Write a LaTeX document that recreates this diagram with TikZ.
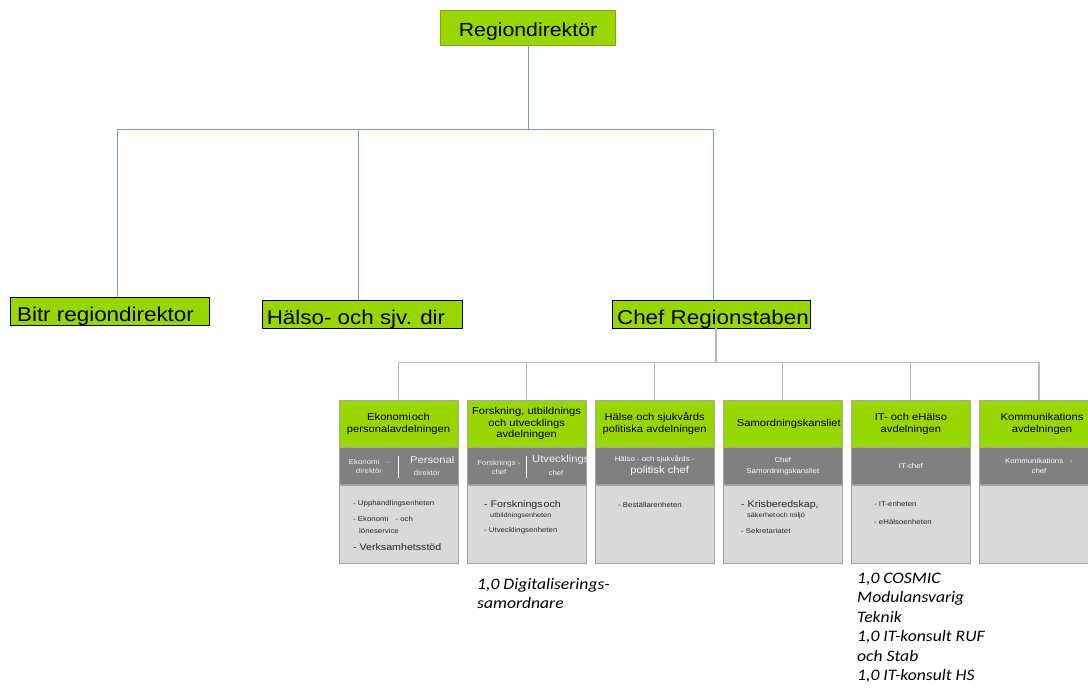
\documentclass[tikz,border=0pt]{standalone}
\usepackage{fontspec}
\setmainfont{Liberation Sans}[FakeStretch=1.12]
\newfontfamily\notefont{Carlito}[FakeStretch=1.1]
\usetikzlibrary{positioning}

\definecolor{leafgreen}{RGB}{153,214,0}
\definecolor{bandgray}{RGB}{128,128,128}
\definecolor{bodygray}{RGB}{217,217,217}
\definecolor{framegray}{RGB}{166,166,166}
\definecolor{linkblue}{RGB}{110,160,215}
\definecolor{linkgray}{RGB}{190,184,178}
\definecolor{inkgray}{RGB}{38,38,38}

\begin{document}
\begin{tikzpicture}[x=1pt, y=-1pt, thin,
  mgr/.style = {draw=black, line width=0.9pt, fill=leafgreen, minimum height=28pt, inner ysep=0pt, text height=22pt, text depth=2pt, font=\fontsize{20}{22}\selectfont},
  dept/.style = {draw=framegray, fill=leafgreen, minimum width=119pt, minimum height=47pt, inner sep=0pt, align=center, font=\fontsize{10}{12}\selectfont},
  bandbox/.style = {draw=framegray, fill=bandgray, minimum width=119pt, minimum height=37pt, inner sep=0pt, align=center, text=white},
  bodybox/.style = {draw=framegray, fill=bodygray, minimum width=119pt, minimum height=78pt, inner sep=0pt},
  lowtxt/.style = {inner sep=0pt, text=white!95!black, align=center, font=\fontsize{7}{9}\selectfont},
  hightxt/.style = {inner sep=0pt, text=white!95!black, font=\fontsize{10}{12}\selectfont},
  item/.style = {anchor=west, inner sep=0pt, text=inkgray, font=\fontsize{7}{9}\selectfont},
  bigitem/.style = {anchor=west, inner sep=0pt, text=inkgray, font=\fontsize{9.5}{11}\selectfont},
  note/.style = {anchor=north west, inner sep=0pt, align=left, font=\notefont\itshape\fontsize{16}{19.4}\selectfont},
  blueline/.style = {draw=linkblue, line width=0.9pt},
  grayline/.style = {draw=linkgray, line width=1.1pt}]
\useasboundingbox (0,0) rectangle (1088,698);
\clip (0,0) rectangle (1088,698);

% top level
\node[draw=leafgreen!80!black, fill=leafgreen, minimum width=175pt, minimum height=35pt, inner ysep=0pt, text height=21pt, text depth=2pt, font=\fontsize{19}{21}\selectfont] (rd) at (528,27.5) {Regiondirektör};
\node[mgr, minimum width=199pt] (bitr) at (109.5,311.5) {Bitr regiondirektor\hspace*{8pt}};
\node[mgr, minimum width=200pt] (hsj) at (362,314) {Hälso- och sjv. dir\hspace*{12pt}};
\node[mgr, minimum width=198pt, inner xsep=0pt] (chief) at (711,314) {\hspace*{4pt}Chef Regionstaben};

% departments
\node[dept] (d1) at (398.5,423.5) {Ekonomi\hspace{1pt}och\\personalavdelningen};
\node[dept, font=\fontsize{10}{11.5}\selectfont] (d2) [right=8.7pt of d1] {Forskning, utbildnings\\och utvecklings\\avdelningen};
\node[dept] (d3) [right=8.7pt of d2] {Hälse och sjukvårds\\politiska avdelningen};
\node[dept] (d4) [right=8.7pt of d3] {\hspace*{12pt}Samordningskansliet};
\node[dept] (d5) [right=8.7pt of d4] {IT- och eHälso\\avdelningen};
\node[dept] (d6) [right=8.7pt of d5] {\hspace*{6pt}Kommunikations\\\hspace*{6pt}avdelningen};

\node[bandbox] (b1) [below=0pt of d1] {};
\node[bandbox] (b2) [below=0pt of d2] {};
\node[bandbox] (b3) [below=0pt of d3] {{\fontsize{7}{9}\selectfont Hälso - och sjukvårds -}\\{\fontsize{10}{11}\selectfont\hspace*{10pt}politisk chef}};
\node[bandbox, font=\fontsize{7}{11}\selectfont] (b4) [below=0pt of d4] {Chef\\Samordningskansliet};
\node[bandbox, font=\fontsize{7}{9}\selectfont] (b5) [below=0pt of d5] {IT-chef};
\node[bandbox, font=\fontsize{7}{10}\selectfont] (b6) [below=0pt of d6] {Kommunikations\quad -\\chef};

\node[bodybox] (c1) [below=0pt of b1] {};
\node[bodybox] (c2) [below=0pt of b2] {};
\node[bodybox] (c3) [below=0pt of b3] {};
\node[bodybox] (c4) [below=0pt of b4] {};
\node[bodybox] (c5) [below=0pt of b5] {};
\node[bodybox] (c6) [below=0pt of b6] {};

% chiefs in the grey bands
\node[lowtxt] (eko) at (369,466) {Ekonomi\quad -\\direktör};
\node[hightxt, anchor=west] (pers) at (410,460) {Personal};
\node[lowtxt] (persd) at (427,473) {direktör};
\draw[white, line width=1.6pt] ([yshift=10pt]b1.center) -- ([yshift=-12pt]b1.center);
\node[lowtxt] (forsk) at (499,467) {Forsknings -\\chef};
\node[hightxt, anchor=west] (utv) at (532,460) {Utvecklings};
\node[lowtxt] (utvd) at (556,473) {chef};
\draw[white, line width=1.6pt] ([yshift=10pt]b2.center) -- ([yshift=-12pt]b2.center);

% units
\node[item] (u1) at (353,504) {- Upphandlingsenheten};
\node[item] (u2) at (353,519) {- Ekonomi\quad - och};
\node[item] (u3) at (359,531) {löneservice};
\node[bigitem] (u4) at (353,547) {- Verksamhetsstöd};
\node[bigitem] (u5) at (484,505) {- Forsknings\hspace{1pt}och};
\node[item, font=\fontsize{6.5}{8}\selectfont] (u6) at (490,516) {utbildningsenheten};
\node[item] (u7) at (484,531) {- Utvecklingsenheten};
\node[item] (u8) at (618,505) {- Beställarenheten};
\node[bigitem] (u9) at (741,505) {- Krisberedskap,};
\node[item, font=\fontsize{6.5}{8}\selectfont] (u10) at (747,516) {säkerhet\hspace{1pt}och miljö};
\node[item] (u11) at (741,531) {- Sekretariatet};
\node[item] (u12) at (874,504) {- IT-enheten};
\node[item] (u13) at (874,522) {- eHälsoenheten};

% notes
\node[note] (n1) at (477,578) {1,0 Digitaliserings-\\samordnare};
\node[note] (n2) at (857,573) {1,0 COSMIC\\Modulansvarig\\Teknik\\1,0 IT-konsult RUF\\och Stab\\1,0 IT-konsult HS};

% lines
\path (rd.south) ++(0,84) coordinate (rdhub);
\draw[blueline] (rd.south) -- (rdhub);
\draw[blueline] (rdhub) -| ([xshift=7.5pt]bitr.north);
\draw[blueline] (rdhub) -| ([xshift=-4pt]hsj.north);
\draw[blueline] (rdhub) -| ([xshift=2pt]chief.north);
\path ([xshift=5pt]chief.south) ++(0,34) coordinate (stabhub);
\draw[grayline] ([xshift=5pt]chief.south) -- (stabhub);
\foreach \i in {1,...,6}
  \draw[grayline] (stabhub) -| (d\i.north);
\end{tikzpicture}
\end{document}
